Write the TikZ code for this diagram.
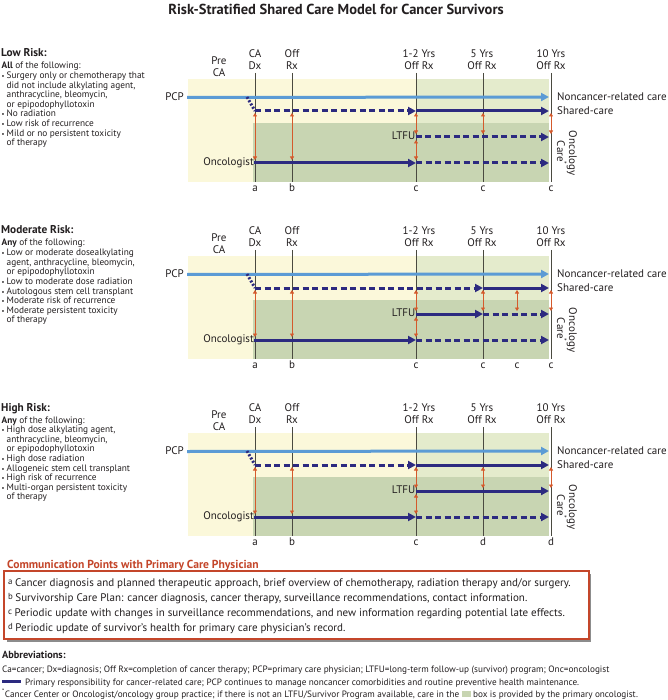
\documentclass[tikz,border=0pt]{standalone}
\usepackage{fontspec}
\setmainfont{PT Sans}
\usetikzlibrary{arrows.meta}
\definecolor{bgyellow}{HTML}{FBF8DA}
\definecolor{bglgreen}{HTML}{E4EBCC}
\definecolor{bgdgreen}{HTML}{C8D5B2}
\definecolor{navy}{HTML}{2C2A80}
\definecolor{pcpblue}{HTML}{5B9BD5}
\definecolor{orangec}{HTML}{D45A2C}
\definecolor{vline}{HTML}{4A4A40}
\definecolor{txt}{HTML}{231F20}
\definecolor{redhead}{HTML}{C4462A}
\newcommand\lsize{\fontsize{9.3}{9.6}\selectfont}
\newcommand\lblfont{\fontsize{11}{12}\selectfont}
\newcommand\bul{\makebox[5pt][l]{\fontsize{6.5}{6.5}\selectfont\textbullet}}
\newcommand\ind{\hspace*{5pt}}
\newcommand\cpl[1]{\raisebox{2pt}{\fontsize{8.8}{8.8}\selectfont #1}\hspace{2.5pt}}
\tikzset{
  navyline/.style={draw=navy, line width=3pt, -{Triangle[length=8pt,width=8pt]}},
  navydash/.style={navyline, dash pattern=on 6pt off 3.5pt},
  pcpline/.style={draw=pcpblue, line width=3pt, -{Triangle[length=8pt,width=8pt]}},
  dotline/.style={draw=navy, line width=3pt, dash pattern=on 2pt off 1.8pt},
  orarrow/.style={draw=orangec, line width=1pt, {Triangle[length=3.5pt,width=4pt]}-{Triangle[length=3.5pt,width=4pt]}},
  vl/.style={draw=vline, line width=0.8pt},
  lbl/.style={font=\lblfont, text=txt, inner sep=0pt},
  slbl/.style={lbl, text height=7.5pt, text depth=2pt},
  hdr/.style={lbl, align=center},
  lefthead/.style={anchor=base west, inner sep=0pt, font=\bfseries\fontsize{11.3}{12}\selectfont, text=txt},
  leftlist/.style={anchor=base west, inner sep=0pt, font=\lsize, text=txt},
  bodytxt/.style={anchor=base west, inner sep=0pt, font=\fontsize{11}{12}\selectfont, text=txt},
  abbtxt/.style={anchor=base west, inner sep=0pt, font=\fontsize{9.2}{10}\selectfont, text=txt}
}
\newcommand\oarr[4]{\coordinate (#1t) at (#2,#3); \coordinate (#1b) at (#2,#4); \draw[orarrow] (#1t) -- (#1b);}
\newcommand\panelbase{%
  \fill[bgyellow] (188,79) rectangle (549,182);
  \fill[bglgreen] (416,79) rectangle (549,123);
  \fill[bgdgreen] (253,123) rectangle (549,182);
  \foreach \xx in {255,292,416,483,551}{\draw[vl] (\xx,73) -- (\xx,182);}
  \node[hdr] (hpre) at (219,66.5) {Pre\\CA};
  \node[hdr] (hca) at (255,60) {CA\\Dx};
  \node[hdr] (hoff) at (292,60) {Off\\Rx};
  \node[hdr] (h12) at (419,60) {1-2 Yrs\\Off Rx};
  \node[hdr] (h5) at (482,60) {5 Yrs\\Off Rx};
  \node[hdr] (h10) at (551,60) {10 Yrs\\Off Rx};
  \node[slbl, anchor=east] (pcp) at (184,97.5) {PCP};
  \node[slbl, anchor=east] (onc) at (254,163) {Oncologist};
  \node[slbl, anchor=east] (ltfu) at (415.5,137) {LTFU};
  \node[slbl, anchor=west] (ncc) at (557,97.5) {Noncancer-related care};
  \node[slbl, anchor=west] (shc) at (557,111.5) {Shared-care};
  \node[lbl, rotate=-90, align=center] (occ) at (567,153) {Oncology\\Care\textsuperscript{*}};
  \coordinate (pcpE) at (549,97);
  \coordinate (dotS) at (247,97);
  \coordinate (shA) at (255,111);
  \coordinate (shC) at (416,111);
  \coordinate (shD) at (483,111);
  \coordinate (shE) at (549,111);
  \coordinate (ltD) at (483,137);
  \coordinate (ltE) at (549,137);
  \coordinate (onC) at (416,163);
  \coordinate (onE) at (549,163);
  \draw[pcpline] ([xshift=3pt]pcp.east) -- (pcpE);
  \draw[dotline] (dotS) -- (shA);
  \draw[navyline] (onc.east) -- (onC);
  \draw[navydash] (onC) -- (onE);
  \oarr{oa}{255}{113}{160}
  \oarr{ob}{292}{113}{160}
  \oarr{oca}{416}{113}{134}
  \oarr{ocb}{416}{140}{160}
  \oarr{od}{483}{113}{134}
  \oarr{of}{551}{113}{134}
  \node[slbl] (la) at (255,188.5) {a};
  \node[slbl] (lb) at (292,188.5) {b};
  \node[slbl] (lc) at (416,188.5) {c};
}
\begin{document}
\begin{tikzpicture}[x=1pt, y=-1pt]
\path[use as bounding box, fill=white] (0,0) rectangle (667,700);
\node[font=\bfseries\fontsize{14.5}{16}\selectfont, text=txt, inner sep=0pt] (title) at (336,9.5) {Risk-Stratified Shared Care Model for Cancer Survivors};

% ---------------- Low risk
\begin{scope}[name prefix=L-]
  \panelbase
  \draw[navydash] (shA) -- (shC);
  \draw[navyline] (shC) -- (shE);
  \draw[navydash] (ltfu.east) -- (ltE);
  \node[slbl] (ld) at (483,188.5) {c};
  \node[slbl] (lf) at (551,188.5) {c};
  \node[lefthead] (head) at (1,57) {Low Risk:};
  \node[leftlist] (list) at (1.5,69) {\begin{tabular}[t]{@{}l@{}}
    \textbf{All} of the following:\\
    \bul Surgery only or chemotherapy that\\
    \ind did not include alkylating agent,\\
    \ind anthracycline, bleomycin,\\
    \ind or epipodophyllotoxin\\
    \bul No radiation\\
    \bul Low risk of recurrence\\
    \bul Mild or no persistent toxicity\\
    \ind of therapy\end{tabular}};
\end{scope}

% ---------------- Moderate risk
\begin{scope}[shift={(0,177)}, name prefix=M-]
  \panelbase
  \draw[navydash] (shA) -- (shD);
  \draw[navyline] (shD) -- (shE);
  \draw[navyline] (ltfu.east) -- (ltD);
  \draw[navydash] (ltD) -- (ltE);
  \oarr{oe}{517}{113}{134}
  \node[slbl] (ld) at (483,188.5) {c};
  \node[slbl] (le) at (517,188.5) {c};
  \node[slbl] (lf) at (551,188.5) {c};
  \node[lefthead] (head) at (1,57) {Moderate Risk:};
  \node[leftlist] (list) at (1.5,69) {\begin{tabular}[t]{@{}l@{}}
    \textbf{Any} of the following:\\
    \bul Low or moderate dosealkylating\\
    \ind agent, anthracycline, bleomycin,\\
    \ind or epipodophyllotoxin\\
    \bul Low to moderate dose radiation\\
    \bul Autologous stem cell transplant\\
    \bul Moderate risk of recurrence\\
    \bul Moderate persistent toxicity\\
    \ind of therapy\end{tabular}};
\end{scope}

% ---------------- High risk
\begin{scope}[shift={(0,354)}, name prefix=H-]
  \panelbase
  \draw[navydash] (shA) -- (shC);
  \draw[navyline] (shC) -- (shE);
  \draw[navyline] (ltfu.east) -- (ltE);
  \node[slbl] (ld) at (483,188.5) {d};
  \node[slbl] (lf) at (551,188.5) {d};
  \node[lefthead] (head) at (1,57) {High Risk:};
  \node[leftlist] (list) at (1.5,69) {\begin{tabular}[t]{@{}l@{}}
    \textbf{Any} of the following:\\
    \bul High dose alkylating agent,\\
    \ind anthracycline, bleomycin,\\
    \ind or epipodophyllotoxin\\
    \bul High dose radiation\\
    \bul Allogeneic stem cell transplant\\
    \bul High risk of recurrence\\
    \bul Multi-organ persistent toxicity\\
    \ind of therapy\end{tabular}};
\end{scope}

% ---------------- Communication points
\node[anchor=base west, inner sep=0pt, font=\bfseries\fontsize{11.6}{12}\selectfont, text=redhead] (cphead) at (7,568.5) {Communication Points with Primary Care Physician};
\fill[black!45] (6.5,573.5) rectangle (591,641.5);
\draw[draw=redhead, line width=1.3pt, fill=white] (4,571) rectangle (589,639);
\node[bodytxt] (cpa) at (8,586) {\cpl{a}Cancer diagnosis and planned therapeutic approach, brief overview of chemotherapy, radiation therapy and/or surgery.};
\node[bodytxt] (cpb) at (8,601) {\cpl{b}Survivorship Care Plan: cancer diagnosis, cancer therapy, surveillance recommendations, contact information.};
\node[bodytxt] (cpc) at (8,616) {\cpl{c}Periodic update with changes in surveillance recommendations, and new information regarding potential late effects.};
\node[bodytxt] (cpd) at (8,631) {\cpl{d}Periodic update of survivor’s health for primary care physician’s record.};

% ---------------- Abbreviations
\node[anchor=base west, inner sep=0pt, font=\bfseries\fontsize{10.3}{11}\selectfont, text=txt] (abh) at (2,658.5) {Abbreviations:};
\node[abbtxt] (ab1) at (2,672.5) {Ca=cancer; Dx=diagnosis; Off Rx=completion of cancer therapy; PCP=primary care physician; LTFU=long-term follow-up (survivor) program; Onc=oncologist};
\node[abbtxt] (ab2) at (2,685) {\textcolor{navy}{\rule[2pt]{19pt}{2.6pt}}\hspace{4pt}Primary responsibility for cancer-related care; PCP continues to manage noncancer comorbidities and routine preventive health maintenance.};
\node[abbtxt] (ab3) at (2,697) {\textsuperscript{*}Cancer Center or Oncologist/oncology group practice; if there is not an LTFU/Survivor Program available, care in the \textcolor{bgdgreen}{\rule{9pt}{6pt}} box is provided by the primary oncologist.};
\end{tikzpicture}
\end{document}
